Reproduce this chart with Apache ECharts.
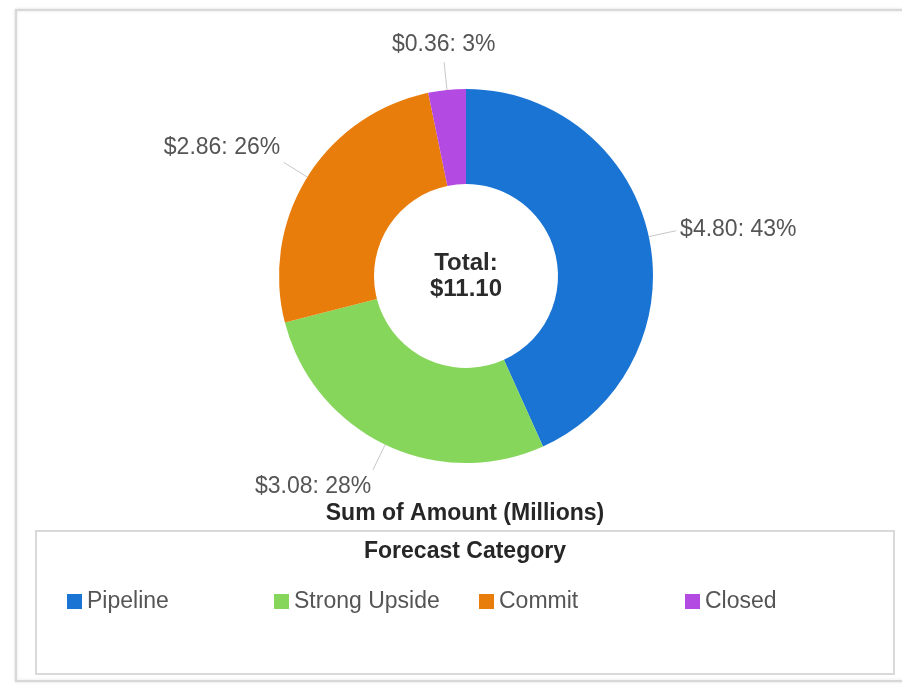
<!DOCTYPE html>
<html>
<head>
<meta charset="utf-8">
<title>Sum of Amount (Millions)</title>
<script src="https://cdn.jsdelivr.net/npm/echarts@6/dist/echarts.min.js"></script>
<style>
  html, body { margin: 0; padding: 0; background: #ffffff; }
  #chart { width: 902px; height: 684px; }
</style>
</head>
<body>
<div id="chart"></div>
<script>
// Forecast categories and their summed amounts (millions)
var categories = ['Pipeline', 'Strong Upside', 'Commit', 'Closed'];
var amounts = [4.80, 3.08, 2.86, 0.36];
var palette = ['#1a74d4', '#86d65b', '#e97d0b', '#b34be2'];

var chartTitle = 'Sum of Amount (Millions)';
var legendTitle = 'Forecast Category';
var totalCaption = 'Total:';

var FONT = 'Arial, "Liberation Sans", Helvetica, sans-serif';

var total = amounts.reduce(function (s, v) { return s + v; }, 0);

var pieData = categories.map(function (name, i) {
  return { name: name, value: amounts[i], itemStyle: { color: palette[i] } };
});

// One legend block per category so each entry sits in its own column
var legendLefts = [67, 274, 479, 685];
var legends = categories.map(function (name, i) {
  return {
    data: [name],
    left: legendLefts[i],
    top: 590,
    orient: 'horizontal',
    icon: 'rect',
    itemWidth: 15,
    itemHeight: 15,
    itemGap: 0,
    padding: 0,
    selectedMode: false,
    textStyle: { fontFamily: FONT, fontSize: 23, color: '#555555' }
  };
});

var chart = echarts.init(document.getElementById('chart'), null, { renderer: 'canvas' });

chart.setOption({
  backgroundColor: '#ffffff',
  animation: false,
  legend: legends,
  graphic: [
    {
      type: 'rect', silent: true, z: -10,
      shape: { x: 16, y: 10, width: 900, height: 671 },
      style: { fill: '#ffffff', stroke: '#d8d8d8', lineWidth: 2,
               shadowBlur: 3, shadowColor: 'rgba(0,0,0,0.12)' }
    },
    {
      type: 'rect', silent: true, z: -9,
      shape: { x: 36, y: 531, width: 858, height: 143 },
      style: { fill: '#ffffff', stroke: '#d9d9d9', lineWidth: 2 }
    },
    {
      type: 'text', silent: true,
      x: 465, y: 514,
      style: { text: chartTitle, align: 'center', verticalAlign: 'middle',
               font: 'bold 23px ' + FONT, fill: '#262626' }
    },
    {
      type: 'text', silent: true,
      x: 465, y: 552,
      style: { text: legendTitle, align: 'center', verticalAlign: 'middle',
               font: 'bold 23px ' + FONT, fill: '#262626' }
    },
    {
      type: 'text', silent: true,
      x: 466, y: 276,
      style: { text: totalCaption + '\n$' + total.toFixed(2), align: 'center',
               verticalAlign: 'middle', font: 'bold 24px ' + FONT,
               lineHeight: 26, fill: '#2b2b2b' }
    }
  ],
  series: [{
    type: 'pie',
    center: [466, 276],
    radius: [92, 187],
    startAngle: 90,
    clockwise: true,
    avoidLabelOverlap: false,
    emphasis: { disabled: true },
    itemStyle: { borderWidth: 0 },
    label: {
      show: true,
      position: 'outside',
      fontFamily: FONT,
      fontSize: 23,
      color: '#555555',
      formatter: function (p) {
        return '$' + p.value.toFixed(2) + ': ' + Math.round(p.percent) + '%';
      }
    },
    labelLine: {
      show: true,
      length: 28,
      length2: 0,
      smooth: false,
      lineStyle: { color: '#c8c8c8', width: 1 }
    },
    // Anchor each label at the end of its leader line, aligned by direction
    labelLayout: function (p) {
      var pts = p.labelLinePoints;
      if (!pts) { return {}; }
      var a = pts[0], b = pts[1];
      var dx = b[0] - a[0], dy = b[1] - a[1];
      var len = Math.sqrt(dx * dx + dy * dy) || 1;
      var ux = dx / len, uy = dy / len;
      var align = ux > 0.35 ? 'left' : (ux < -0.35 ? 'right' : 'center');
      var valign = uy > 0.35 ? 'top' : (uy < -0.35 ? 'bottom' : 'middle');
      return {
        x: b[0] + ux * 4,
        y: b[1] + uy * 6,
        align: align,
        verticalAlign: valign,
        labelLinePoints: pts
      };
    },
    data: pieData
  }]
});
</script>
</body>
</html>
